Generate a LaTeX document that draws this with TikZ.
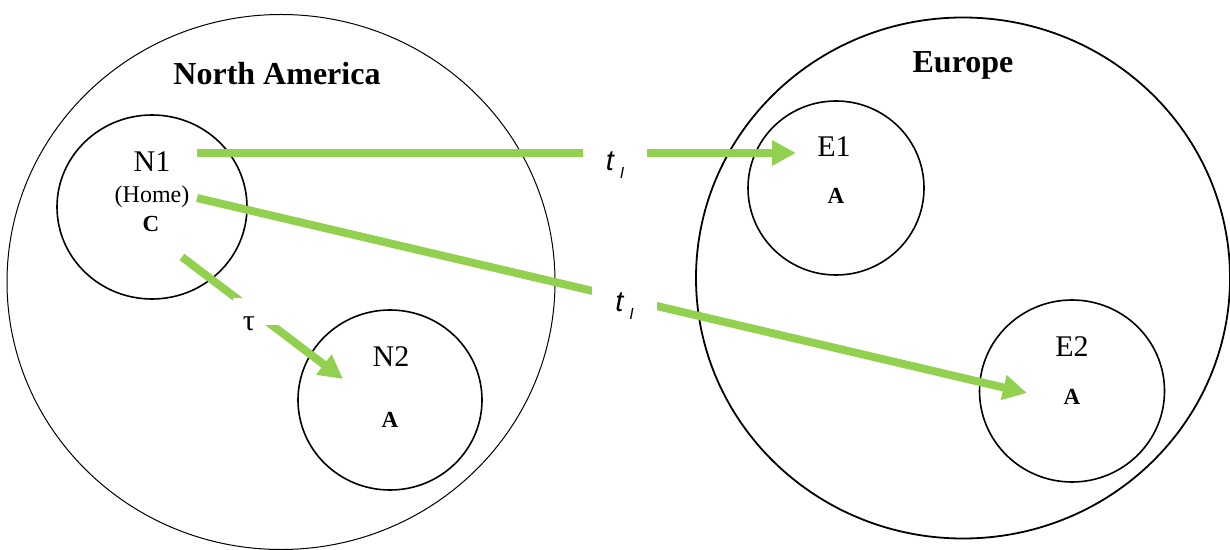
\documentclass[tikz,border=0pt]{standalone}
\usepackage{fontspec}
\setmainfont{Liberation Serif}
\newfontfamily\labelsans{Liberation Sans}
\usetikzlibrary{shapes.geometric,arrows.meta}
\definecolor{flowgreen}{RGB}{146,208,80}

\begin{document}
\begin{tikzpicture}[
  x=0.5pt, y=-0.5pt,
  region/.style={draw, ellipse, inner sep=0pt},
  site/.style={draw, ellipse, line width=0.8pt, inner sep=0pt},
  areatitle/.style={font=\bfseries\fontsize{16}{19}\selectfont},
  sitename/.style={font=\fontsize{15}{18}\selectfont},
  sitetag/.style={font=\bfseries\fontsize{11.5}{14}\selectfont},
  move/.style={draw=flowgreen, line width=4pt, -{Triangle[length=12pt,width=12pt]}},
  cutout/.style={fill=white, inner sep=0pt}
]
\useasboundingbox (0,0) rectangle (1230,550);

% continents
\node[region, line width=0.5pt, minimum width=274pt, minimum height=267.5pt] (namerica) at (281,282) {};
\node[region, line width=0.9pt, minimum width=267pt, minimum height=260.5pt] (europe) at (963,278) {};
\node[areatitle] (natitle) at (277,74) {North America};
\node[areatitle] (eutitle) at (963,65) {Europe};

% sites
\node[site, minimum width=95pt, minimum height=92pt] (n1) at (152,207) {};
\node[site, minimum width=92pt, minimum height=90pt] (n2) at (390,400) {};
\node[site, minimum width=88pt, minimum height=87pt] (e1) at (836,188) {};
\node[site, minimum width=92.5pt, minimum height=91pt] (e2) at (1072,391) {};

\node[sitename] (n1name) at (152,162) {N1};
\node[font=\fontsize{12}{14}\selectfont] (n1home) at (152,197) {(Home)};
\node[sitetag] (n1tag) at (151,224) {C};
\node[sitename] (n2name) at (391,357) {N2};
\node[sitetag] (n2tag) at (390,420) {A};
\node[sitename] (e1name) at (834,147) {E1};
\node[sitetag] (e1tag) at (836,196) {A};
\node[sitename] (e2name) at (1072,347) {E2};
\node[sitetag] (e2tag) at (1072,397) {A};

% arrow ends
\coordinate (outtop) at (197,153);
\coordinate (outmid) at (197,198);
\coordinate (outlow) at (182,257);
\coordinate (ine1) at (796,153);
\coordinate (ine2) at (1027,393);
\coordinate (inn2) at (343,379);

\draw[move] (outtop) -- (ine1);
\draw[move] (outmid) -- (ine2);
\draw[move] (outlow) -- (inn2);

% labels over the arrows
\node[cutout, minimum width=32pt, minimum height=17pt] (tone) at (615,165)
  {{\labelsans\itshape\fontsize{14.5}{16}\selectfont t}\hspace{3pt}\raisebox{-4pt}{\labelsans\itshape\fontsize{8}{10}\selectfont I}};
\node[cutout, minimum width=32.5pt, minimum height=21pt] (ttwo) at (624.5,306)
  {{\labelsans\itshape\fontsize{14.5}{16}\selectfont t}\hspace{3pt}\raisebox{-4pt}{\labelsans\itshape\fontsize{8}{10}\selectfont I}};
\node[cutout, minimum width=23pt, minimum height=13.5pt] (tau) at (256,311.5)
  {\makebox[0pt]{\raisebox{-9.5pt}[0pt][0pt]{\fontsize{15}{17}\selectfont τ}\hspace{7pt}}};
\end{tikzpicture}
\end{document}
